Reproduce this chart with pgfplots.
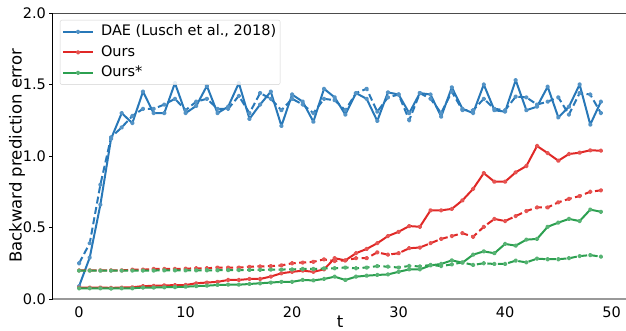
\documentclass[border=0pt]{standalone}
\usepackage{pgfplots}
\pgfplotsset{compat=1.18}
\usepackage{fontspec}
\setmainfont{DejaVu Sans}
\definecolor{cblue}{RGB}{40,120,184}
\definecolor{cred}{RGB}{224,40,38}
\definecolor{cgreen}{RGB}{44,160,80}
\begin{document}
\begin{tikzpicture}
\begin{axis}[
  name=ax,
  scale only axis,
  width=574pt, height=286pt,
  xmin=-2.45, xmax=51.45,
  ymin=0, ymax=2.0,
  xtick={0,10,20,30,40,50},
  ytick={0,0.5,1.0,1.5,2.0},
  yticklabel style={/pgf/number format/.cd,fixed,fixed zerofill,precision=1},
  /pgf/number format/assume math mode=true,
  ticklabel style={font=\fontsize{14.5}{17}\selectfont},
  xlabel={t},
  ylabel={Backward prediction error},
  every axis x label/.style={at={(axis description cs:0.5,0)}, anchor=north, yshift=-17pt, inner sep=0pt, font=\fontsize{16.5}{19}\selectfont},
  ylabel style={font=\fontsize{16.5}{19}\selectfont},
  ylabel shift=-9pt,
  axis x line*=bottom,
  axis y line*=left,
  x axis line style={draw=gray!80, line width=1.6pt},
  y axis line style={draw=black, line width=1pt},
  tick align=outside,
  major tick length=3.5pt,
  y tick style={draw=black, line width=0.9pt},
  x tick style={draw=none},
  xticklabel style={yshift=-1pt},
  legend style={at={(0.012,0.976)}, anchor=north west,
    font=\fontsize{14.5}{17}\selectfont,
    draw=gray!35, rounded corners=2pt, fill=white, fill opacity=0.85, text opacity=1,
    inner xsep=2pt, inner ysep=2.5pt, row sep=2pt,
    nodes={text height=11pt, text depth=3.5pt},
    /tikz/every odd column/.append style={column sep=5pt}},
  legend cell align=left,
  legend image code/.code={\draw[mark repeat=2,mark phase=2,#1] plot coordinates {(0pt,0pt) (15pt,0pt) (30pt,0pt)};},
  every axis plot/.append style={line width=2pt, mark=*, mark size=1.3pt, line join=round},
  clip=false,
]
\draw[gray!60!black, line width=0.9pt] (rel axis cs:0,1) -- (rel axis cs:1,1);
% DAE solid
\addplot[cblue, mark options={fill=cblue!80, draw=cblue!80}] coordinates {
(0,0.09) (1,0.29) (2,0.66) (3,1.12) (4,1.30) (5,1.23) (6,1.45) (7,1.30) (8,1.30) (9,1.51)
(10,1.30) (11,1.35) (12,1.49) (13,1.30) (14,1.345) (15,1.51) (16,1.26) (17,1.36) (18,1.45) (19,1.21)
(20,1.43) (21,1.38) (22,1.24) (23,1.47) (24,1.41) (25,1.29) (26,1.44) (27,1.40) (28,1.245) (29,1.445)
(30,1.43) (31,1.30) (32,1.44) (33,1.43) (34,1.275) (35,1.48) (36,1.33) (37,1.30) (38,1.50) (39,1.32)
(40,1.31) (41,1.53) (42,1.32) (43,1.345) (44,1.485) (45,1.27) (46,1.345) (47,1.50) (48,1.22) (49,1.38)};
\addlegendentry{DAE (Lusch et al., 2018)}
% Ours solid
\addplot[cred, mark options={fill=cred!80, draw=cred!80}] coordinates {
(0,0.08) (1,0.08) (2,0.08) (3,0.078) (4,0.08) (5,0.082) (6,0.09) (7,0.092) (8,0.095) (9,0.097)
(10,0.098) (11,0.11) (12,0.115) (13,0.12) (14,0.133) (15,0.133) (16,0.14) (17,0.14) (18,0.157) (19,0.18)
(20,0.19) (21,0.198) (22,0.19) (23,0.207) (24,0.285) (25,0.27) (26,0.32) (27,0.35) (28,0.39) (29,0.44)
(30,0.47) (31,0.51) (32,0.505) (33,0.62) (34,0.62) (35,0.63) (36,0.69) (37,0.77) (38,0.88) (39,0.82)
(40,0.82) (41,0.886) (42,0.93) (43,1.07) (44,1.02) (45,0.967) (46,1.014) (47,1.023) (48,1.04) (49,1.037)};
\addlegendentry{Ours}
% Ours* solid
\addplot[cgreen, mark options={fill=cgreen!80, draw=cgreen!80}] coordinates {
(0,0.075) (1,0.075) (2,0.075) (3,0.073) (4,0.075) (5,0.075) (6,0.08) (7,0.08) (8,0.082) (9,0.083)
(10,0.086) (11,0.09) (12,0.093) (13,0.098) (14,0.10) (15,0.10) (16,0.105) (17,0.11) (18,0.115) (19,0.12)
(20,0.12) (21,0.133) (22,0.13) (23,0.14) (24,0.156) (25,0.133) (26,0.156) (27,0.163) (28,0.168) (29,0.172)
(30,0.19) (31,0.207) (32,0.207) (33,0.235) (34,0.245) (35,0.27) (36,0.254) (37,0.31) (38,0.333) (39,0.32)
(40,0.385) (41,0.373) (42,0.415) (43,0.42) (44,0.505) (45,0.534) (46,0.56) (47,0.545) (48,0.625) (49,0.61)};
\addlegendentry{Ours*}
% DAE dashed
\addplot[cblue, dash pattern=on 7pt off 3.5pt, mark options={solid, fill=cblue!80, draw=cblue!80}, forget plot] coordinates {
(0,0.25) (1,0.39) (2,0.80) (3,1.13) (4,1.20) (5,1.28) (6,1.33) (7,1.33) (8,1.36) (9,1.40)
(10,1.32) (11,1.38) (12,1.40) (13,1.33) (14,1.33) (15,1.42) (16,1.30) (17,1.44) (18,1.40) (19,1.32)
(20,1.40) (21,1.36) (22,1.30) (23,1.40) (24,1.39) (25,1.32) (26,1.44) (27,1.47) (28,1.31) (29,1.41)
(30,1.43) (31,1.25) (32,1.44) (33,1.40) (34,1.30) (35,1.45) (36,1.32) (37,1.32) (38,1.40) (39,1.33)
(40,1.32) (41,1.415) (42,1.41) (43,1.36) (44,1.38) (45,1.41) (46,1.29) (47,1.44) (48,1.43) (49,1.30)};
% Ours dashed
\addplot[cred, dash pattern=on 7pt off 3.5pt, mark options={solid, fill=cred!80, draw=cred!80}, forget plot] coordinates {
(0,0.20) (1,0.20) (2,0.20) (3,0.20) (4,0.20) (5,0.205) (6,0.205) (7,0.21) (8,0.21) (9,0.21)
(10,0.212) (11,0.215) (12,0.215) (13,0.22) (14,0.22) (15,0.22) (16,0.225) (17,0.228) (18,0.23) (19,0.235)
(20,0.25) (21,0.255) (22,0.26) (23,0.277) (24,0.265) (25,0.27) (26,0.285) (27,0.285) (28,0.326) (29,0.31)
(30,0.32) (31,0.355) (32,0.36) (33,0.39) (34,0.42) (35,0.44) (36,0.46) (37,0.435) (38,0.505) (39,0.56)
(40,0.545) (41,0.58) (42,0.615) (43,0.64) (44,0.64) (45,0.676) (46,0.70) (47,0.72) (48,0.75) (49,0.76)};
% Ours* dashed
\addplot[cgreen, dash pattern=on 7pt off 3.5pt, mark options={solid, fill=cgreen!80, draw=cgreen!80}, forget plot] coordinates {
(0,0.198) (1,0.198) (2,0.198) (3,0.198) (4,0.198) (5,0.199) (6,0.199) (7,0.199) (8,0.20) (9,0.20)
(10,0.20) (11,0.20) (12,0.201) (13,0.201) (14,0.202) (15,0.202) (16,0.203) (17,0.204) (18,0.205) (19,0.206)
(20,0.207) (21,0.21) (22,0.21) (23,0.214) (24,0.215) (25,0.22) (26,0.215) (27,0.22) (28,0.23) (29,0.226)
(30,0.22) (31,0.231) (32,0.228) (33,0.238) (34,0.23) (35,0.242) (36,0.256) (37,0.238) (38,0.25) (39,0.245)
(40,0.245) (41,0.268) (42,0.256) (43,0.282) (44,0.278) (45,0.278) (46,0.285) (47,0.30) (48,0.307) (49,0.296)};
\end{axis}
\pgfresetboundingbox
\path[use as bounding box] (-53pt,-32pt) rectangle (573pt,299pt);
\end{tikzpicture}
\end{document}
